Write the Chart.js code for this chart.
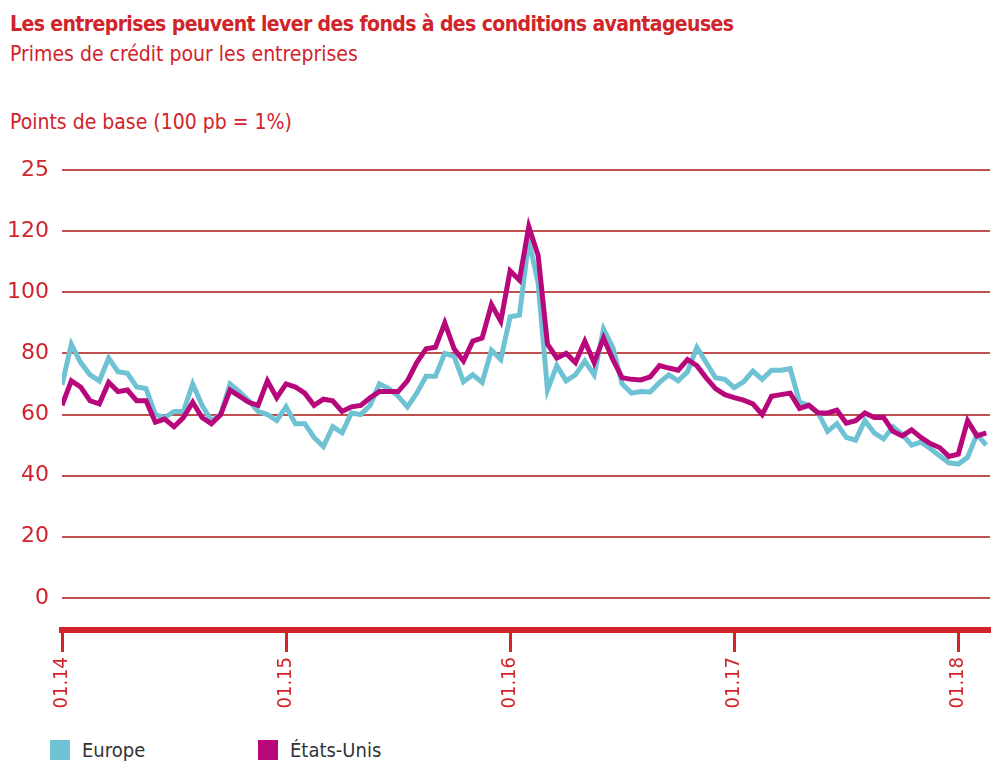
<!DOCTYPE html>
<html>
<head>
<meta charset="utf-8">
<script src="https://cdn.jsdelivr.net/npm/chart.js@4.4.1/dist/chart.umd.min.js"></script>
<style>
  body { margin: 0; background: #fff; width: 999px; height: 770px; overflow: hidden; position: relative;
         font-family: "DejaVu Sans Condensed", "DejaVu Sans", sans-serif; font-stretch: condensed; color: #d1232a; }
  .txt { position: absolute; left: 10px; white-space: nowrap; }
  #title { top: 12px; font-size: 21px; font-weight: bold; letter-spacing: -0.6px; }
  #subtitle { top: 42px; font-size: 21px; }
  #unit { top: 110px; font-size: 21px; }
  #wrap { position: absolute; left: 0; top: 140px; width: 999px; height: 580px; }
  .legend { position: absolute; top: 738px; font-size: 20px; color: #333; }
  .legend span { display: inline-block; width: 20px; height: 20px; vertical-align: -3px; margin-right: 12px; }
</style>
</head>
<body>
<div class="txt" id="title">Les entreprises peuvent lever des fonds à des conditions avantageuses</div>
<div class="txt" id="subtitle">Primes de crédit pour les entreprises</div>
<div class="txt" id="unit">Points de base (100 pb = 1%)</div>
<div id="wrap"><canvas id="chart"></canvas></div>
<div class="legend" style="left:50px"><span style="background:#6fc2d4"></span>Europe</div>
<div class="legend" style="left:258px"><span style="background:#b8077b"></span>États-Unis</div>
<script>
// semi-monthly readings, starting 01.2014
const europe = [
  69.7, 83, 77, 73, 71, 78.5, 74, 73.5, 69, 68.5,
  60, 59, 61, 61, 70, 63, 58, 60, 70, 67.5,
  64.5, 61, 60, 58, 62.5, 57, 57, 52.5, 49.5, 56,
  54, 60.5, 60, 63, 70, 68.5, 66, 62.5, 67, 72.5,
  72.5, 80, 79, 70.7, 73, 70.5, 81, 78, 92, 92.5,
  117, 103, 68, 76, 71, 73, 77.5, 73, 88, 82,
  70, 67, 67.5, 67.4, 70.5, 73, 71, 74, 82, 77,
  72, 71.5, 68.8, 70.7, 74.2, 71.5, 74.5, 74.5, 75, 64,
  63, 60.5, 54.5, 57, 52.5, 51.6, 58, 54, 52, 56,
  53.5, 50, 51, 48.9, 46.5, 44.2, 43.8, 46, 53.5, 50
];
const usa = [
  63, 71, 69, 64.5, 63.5, 70.5, 67.5, 68, 64.5, 64.5,
  57.5, 58.5, 56, 59, 64, 59, 57, 60, 68, 66,
  64, 63, 71, 65.5, 70, 69, 67, 63, 65, 64.5,
  61, 62.5, 63, 65.5, 67.5, 67.5, 67.5, 71, 77, 81.5,
  82, 90, 81.5, 77.5, 84, 85, 96, 90.5, 107, 104,
  121.5, 112, 83, 78.5, 80, 77, 84, 77, 85, 78,
  72, 71.5, 71.3, 72.3, 76, 75.2, 74.5, 78, 76, 72,
  68.5, 66.5, 65.5, 64.7, 63.5, 60, 66, 66.5, 67, 62,
  63, 60.5, 60.5, 61.4, 57.2, 58, 60.5, 59, 59, 54.5,
  53, 55, 52.5, 50.5, 49.2, 46.3, 47, 58, 53, 54
];
const yTicks = [0, 20, 40, 60, 80, 100, 120, 140];
const yTickLabels = ['0', '20', '40', '60', '80', '100', '120', '25'];
const xTicks = [0, 12, 24, 36, 48];
const xTickLabels = ['01.14', '01.15', '01.16', '01.17', '01.18'];

const RED = '#d1232a';
const FONT = '"DejaVu Sans Condensed", "DejaVu Sans", sans-serif';

function toPoints(arr) {
  return arr.map((v, i) => ({ x: i / 2, y: v }));
}

const data = {
  datasets: [{
    label: 'Europe',
    data: toPoints(europe),
    borderColor: '#6fc2d4',
    borderWidth: 5,
    pointRadius: 0,
    tension: 0,
    order: 2
  }, {
    label: 'États-Unis',
    data: toPoints(usa),
    borderColor: '#b8077b',
    borderWidth: 5,
    pointRadius: 0,
    tension: 0,
    order: 1
  }]
};

const config = {
  type: 'line',
  data: data,
  options: {
    responsive: true,
    maintainAspectRatio: false,
    animation: false,
    layout: { padding: { top: 30, right: 9, left: 0, bottom: 0 } },
    plugins: { legend: { display: false }, tooltip: { enabled: false } },
    scales: {
      x: {
        type: 'linear',
        min: 0,
        max: 49.7,
        afterBuildTicks: axis => { axis.ticks = xTicks.map(v => ({ value: v })); },
        afterFit: axis => { axis.height = 90; },
        ticks: {
          autoSkip: false,
          minRotation: 90,
          maxRotation: 90,
          padding: 5,
          color: RED,
          font: { family: FONT, size: 20, style: 'normal condensed' },
          callback: (v) => xTickLabels[xTicks.indexOf(v)]
        },
        grid: { drawOnChartArea: false, drawTicks: true, tickLength: 22, tickWidth: 3, tickColor: RED },
        border: { display: true, width: 6, color: RED }
      },
      y: {
        min: -10.5,
        max: 140,
        afterBuildTicks: axis => { axis.ticks = yTicks.map(v => ({ value: v })); },
        afterFit: axis => { axis.width = 62; },
        ticks: {
          padding: 13,
          color: RED,
          font: { family: '"DejaVu Sans", sans-serif', size: 22 },
          callback: (v) => yTickLabels[yTicks.indexOf(v)]
        },
        grid: { drawTicks: false, color: '#c0504d', lineWidth: 2 },
        border: { display: false }
      }
    }
  }
};

const chartCanvas = document.getElementById('chart');
var myChart = new Chart(chartCanvas, config);
</script>
</body>
</html>
